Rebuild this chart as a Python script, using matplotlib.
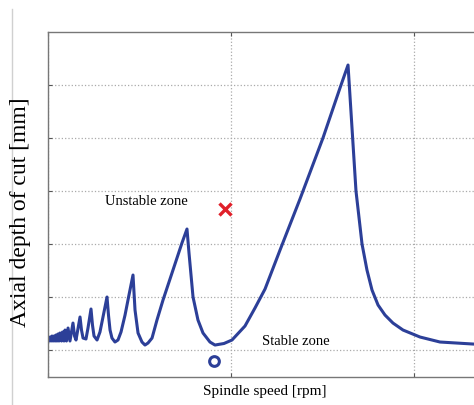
import numpy as np
import matplotlib
matplotlib.use("Agg")
import matplotlib.pyplot as plt
from matplotlib.lines import Line2D

# stability lobe boundary
speed_rpm = [0, 22, 33, 44, 55, 66, 77, 87, 98, 109, 120, 131, 148, 158, 175, 186, 202,
             219, 240, 273, 290, 306, 350, 366, 383, 415, 437, 470, 486, 503, 536, 568,
             612, 645, 661, 678, 699, 732, 765, 798, 842, 885, 929, 951, 984, 1027,
             1060, 1093, 1137, 1191, 1257, 1366, 1464, 1519, 1541, 1585, 1639, 1694,
             1770, 1825, 1923, 2011, 2153, 2262, 2372, 2536, 2754, 3005, 3191, 3279,
             3366, 3432, 3486, 3541, 3607, 3683, 3770, 3880, 4066, 4284, 4645, 4776]
depth_mm = [1.151, 1.245, 1.170, 1.264, 1.170, 1.264, 1.170, 1.283, 1.170, 1.302, 1.170,
            1.321, 1.170, 1.340, 1.170, 1.377, 1.170, 1.415, 1.170, 1.509, 1.264, 1.189,
            1.623, 1.377, 1.226, 1.208, 1.415, 1.774, 1.472, 1.264, 1.189, 1.340, 1.717,
            2.000, 1.660, 1.377, 1.226, 1.151, 1.189, 1.340, 1.660, 2.038, 2.415, 1.755,
            1.321, 1.151, 1.094, 1.132, 1.226, 1.566, 1.943, 2.509, 3.019, 3.283, 2.830,
            2.000, 1.566, 1.321, 1.151, 1.094, 1.123, 1.189, 1.453, 1.792, 2.151, 2.887,
            3.849, 5.000, 5.943, 6.377, 4.000, 3.000, 2.509, 2.132, 1.849, 1.660, 1.509,
            1.377, 1.245, 1.151, 1.113, 1.104]

unstable_pt = (1934, 3.66)
stable_pt = (1814, 0.79)

fig = plt.figure(figsize=(4.74, 4.05), dpi=100)
ax = fig.add_axes([48/474, 28/405, 549/474, 345/405])

ax.plot(speed_rpm, depth_mm, color="#2c3f98", lw=2.2, solid_joinstyle="round")
ax.plot(*unstable_pt, marker="x", color="#e0202a", ms=9, mew=2.4)
ax.plot(*stable_pt, marker="o", mfc="none", mec="#2c3f98", ms=7, mew=2.2)

ax.set_xlim(0, 6000)
ax.set_ylim(0.491, 7.0)
ax.set_xticks([0, 2000, 4000])
ax.set_yticks([1, 2, 3, 4, 5, 6])
ax.tick_params(direction="in", length=3, width=0.8, color="#555555",
               labelbottom=False, labelleft=False, top=True, right=True)
ax.grid(True, linestyle=":", color="#aaaaaa", lw=0.9)
for s in ax.spines.values():
    s.set_color("#777777")
    s.set_linewidth(1.0)

serif = ["Liberation Serif", "DejaVu Serif"]
ax.text(1071, 3.81, "Unstable zone", family=serif, fontsize=10.5, ha="center", va="center")
ax.text(2710, 1.17, "Stable zone", family=serif, fontsize=10.5, ha="center", va="center")
fig.text(265/474, 1 - 392/405, "Spindle speed [rpm]", family=serif, fontsize=11,
         ha="center", va="center")
fig.text(21/474, 1 - 212/405, "Axial depth of cut [mm]", family=serif, fontsize=17,
         rotation=90, ha="center", va="center")

fig.add_artist(Line2D([12/474, 12/474], [0, 1 - 9/405], color="#d0d0d0", lw=1.0))

fig.savefig("out.png", dpi=100)
